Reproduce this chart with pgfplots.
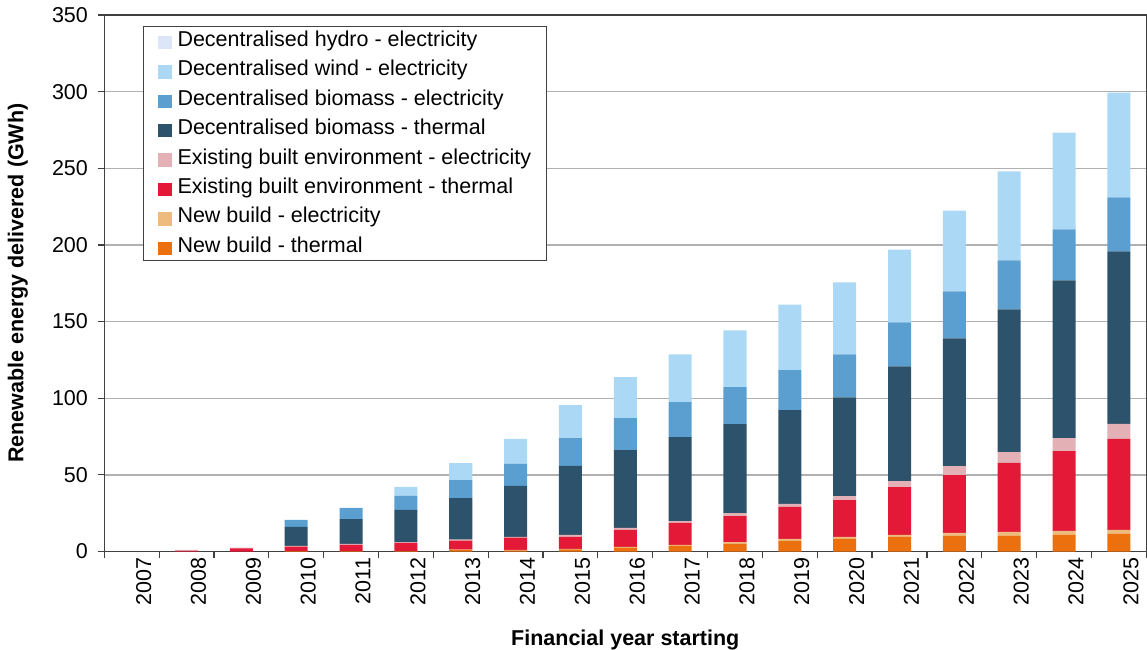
\documentclass[border=0pt]{standalone}
\usepackage{fontspec}
\setmainfont{Liberation Sans}
\usepackage{pgfplots}
\usepackage{pgfplotstable}
\pgfplotsset{compat=1.18}

\definecolor{cHY}{HTML}{DCE6F8}
\definecolor{cWI}{HTML}{ABD9F5}
\definecolor{cBE}{HTML}{5A9FD0}
\definecolor{cBT}{HTML}{2D526B}
\definecolor{cEE}{HTML}{E3B0B5}
\definecolor{cET}{HTML}{E31937}
\definecolor{cNE}{HTML}{EDBB7D}
\definecolor{cNT}{HTML}{EC700E}
\definecolor{gridgray}{HTML}{B0B0B0}
\definecolor{axisgray}{HTML}{404040}

% GWh per financial year, bottom of stack first
\pgfplotstableread{
x  nt   ne   et    ee   bt    be   wi   hy
0  0    0    0     0    0     0    0    0
1  0    0    0.4   0.6  0     0    0    0
2  0    0    2.0   0.6  0     0    0    0
3  0.2  0    3.0   0.5  12.3  4.6  0    0
4  0.3  0    4.0   0.7  16.2  7.2  0    0
5  0.3  0    5.3   0.3  21.2  9.2  5.8  0
6  1.0  0.3  5.8   0.7  27.1  11.7 11.1 0
7  0.8  0.3  8.0   0.4  33.3  14.3 16.3 0
8  1.4  0.3  7.9   1.3  44.9  18.2 21.5 0
9  2.4  0.6  11.1  1.3  50.8  20.8 26.7 0
10 3.9  0.4  14.3  1.3  54.7  22.8 31.2 0
11 5.0  1.2  16.9  2.0  58.0  24.1 37.1 0
12 6.9  1.3  20.9  1.9  61.2  26.1 42.7 0
13 8.2  1.3  24.1  2.6  64.4  28.0 46.9 0
14 9.5  1.3  31.2  3.9  74.8  28.7 47.5 0
15 10.2 2.0  37.7  5.8  83.4  30.6 52.7 0
16 10.2 2.6  45.0  7.1  93.1  31.9 58.0 0
17 10.9 2.6  52.0  8.4  102.9 33.3 63.1 0
18 11.5 2.6  59.3  9.8  112.6 35.2 68.4 0
}\datatable

\newcommand{\fs}{\fontsize{10.75}{13}\selectfont}
\pgfplotsset{
  sq/.style={fill=#1, draw=none,
    legend image code/.code={\fill[#1] (0pt,-4.3pt) rectangle (6.7pt,2.4pt);}},
}

\begin{document}
\begin{tikzpicture}[font=\fs]
\begin{axis}[
  name=ax,
  scale only axis,
  width=521.2pt, height=268.35pt,
  ybar stacked, bar width=0.42,
  xmin=-0.5, xmax=18.5,
  ymin=0, ymax=350,
  ytick={0,50,...,350},
  xtick={-0.5,0.5,...,18.5},
  x tick label as interval,
  xticklabels={2007,2008,2009,2010,2011,2012,2013,2014,2015,2016,2017,2018,2019,2020,2021,2022,2023,2024,2025},
  ticklabel style={font=\fs},
  xticklabel style={rotate=90, anchor=east, inner sep=0pt, yshift=-6pt},
  yticklabel style={inner sep=0pt, xshift=-5pt},
  /pgf/number format/assume math mode=true,
  tick align=outside, tick pos=left,
  major tick length=3pt,
  tick style={draw=axisgray, line width=0.6pt},
  axis line style={draw=axisgray, line width=0.6pt},
  ymajorgrids,
  major grid style={draw=gridgray, line width=0.7pt},
  xlabel={\bfseries Financial year starting},
  ylabel={\bfseries Renewable energy delivered (GWh)},
  label style={font=\fs},
  xlabel style={at={([yshift=-46.8pt]axis description cs:0.5,0)}, anchor=base, inner sep=0pt},
  ylabel style={at={([xshift=-40.4pt]axis description cs:0,0.5)}, anchor=base, rotate=0, inner sep=0pt},
  reverse legend,
  legend cell align=left,
  legend style={at={(axis description cs:0.0368,0.9801)}, anchor=north west,
    font=\fs, draw=axisgray, line width=0.5pt, fill=white,
    inner xsep=7.5pt, inner ysep=2pt, row sep=4.2pt,
    nodes={text height=8.2pt, text depth=2.3pt, inner sep=0pt},
    /tikz/every odd column/.append style={column sep=3pt}},
]
\addplot[sq=cNT] table[x=x, y=nt]{\datatable};
\addplot[sq=cNE] table[x=x, y=ne]{\datatable};
\addplot[sq=cET] table[x=x, y=et]{\datatable};
\addplot[sq=cEE] table[x=x, y=ee]{\datatable};
\addplot[sq=cBT] table[x=x, y=bt]{\datatable};
\addplot[sq=cBE] table[x=x, y=be]{\datatable};
\addplot[sq=cWI] table[x=x, y=wi]{\datatable};
\addplot[sq=cHY] table[x=x, y=hy]{\datatable};
\legend{New build - thermal, New build - electricity,
  Existing built environment - thermal, Existing built environment - electricity,
  Decentralised biomass - thermal, Decentralised biomass - electricity,
  Decentralised wind - electricity, Decentralised hydro - electricity}
\end{axis}
\path (ax.south west) ++(-52.15pt,-48.65pt) rectangle ([xshift=0.15pt,yshift=7.5pt]ax.north east);
\end{tikzpicture}
\end{document}
